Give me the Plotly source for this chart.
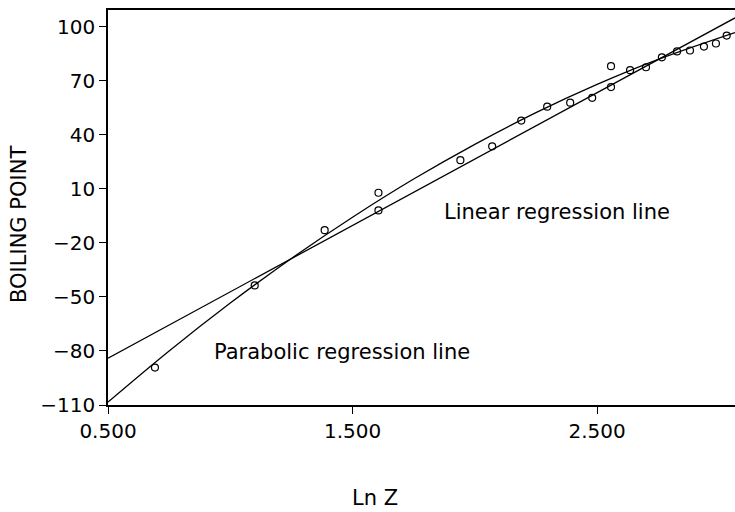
import plotly.graph_objects as go

# observed data (Ln Z, boiling point)
ln_z = [0.692, 1.10, 1.386, 1.606, 1.606, 1.941, 2.071, 2.19, 2.296, 2.39, 2.48,
        2.557, 2.557, 2.635, 2.70, 2.765, 2.827, 2.88, 2.937, 2.986, 3.03]
boiling = [-89.2, -43.6, -12.9, 7.9, -1.9, 26.0, 33.7, 48.0, 55.7, 57.9, 60.6,
           78.2, 66.6, 76.0, 77.6, 83.1, 86.4, 86.9, 89.1, 90.8, 95.2]

# regression lines
lin_x = [0.5, 3.064]
lin_y = [-84.0, 105.0]
par_x = [0.5, 0.75, 1.0, 1.25, 1.5, 1.75, 2.0, 2.25, 2.5, 2.75, 3.064]
par_y = [-108.4, -80.0, -53.4, -28.6, -5.7, 15.5, 34.8, 52.4, 68.1, 82.0, 96.9]

x_ticks = [0.5, 1.5, 2.5]
x_tick_labels = ["0.500", "1.500", "2.500"]
y_ticks = [-110, -80, -50, -20, 10, 40, 70, 100]
y_tick_labels = ["\u2212110", "\u221280", "\u221250", "\u221220", "10", "40", "70", "100"]

FONT = "DejaVu Sans"
XR = [0.5, 3.064]
YR = [-110, 109.4]

W, H = 735, 512
ML, MR, MT, MB = 108, 0, 10, 107
pw, ph = W - ML - MR, H - MT - MB

fig = go.Figure()
fig.add_trace(go.Scatter(x=lin_x, y=lin_y, mode="lines",
                         line=dict(color="black", width=1.3), showlegend=False))
fig.add_trace(go.Scatter(x=par_x, y=par_y, mode="lines", line_shape="spline",
                         line=dict(color="black", width=1.3), showlegend=False))
fig.add_trace(go.Scatter(x=ln_z, y=boiling, mode="markers",
                         marker=dict(symbol="circle-open", size=7, color="black",
                                     line=dict(width=1.2)),
                         showlegend=False))

tfont = dict(family=FONT, size=21, color="black")
fig.add_annotation(x=1.867, y=-3, text="Linear regression line", showarrow=False,
                   xanchor="left", yanchor="middle", font=tfont)
fig.add_annotation(x=0.924, y=-80.4, text="Parabolic regression line", showarrow=False,
                   xanchor="left", yanchor="middle", font=tfont)
fig.add_annotation(x=(375 - ML) / pw, y=-(511 - (H - MB)) / ph, xref="paper", yref="paper",
                   text="Ln Z", showarrow=False, xanchor="center", yanchor="bottom",
                   borderpad=0, font=tfont)
fig.add_annotation(x=(19 - ML) / pw, y=((H - MB) - 225) / ph, xref="paper", yref="paper",
                   text="BOILING POINT", showarrow=False, textangle=-90,
                   xanchor="center", yanchor="middle", font=tfont)

axis_font = dict(family=FONT, size=20, color="black")
fig.update_layout(
    width=W, height=H,
    margin=dict(l=ML, r=MR, t=MT, b=MB),
    paper_bgcolor="white", plot_bgcolor="white",
    xaxis=dict(range=XR, tickvals=x_ticks, ticktext=x_tick_labels, ticks="outside",
               ticklen=7, tickwidth=1.2, tickcolor="black", showline=True, linecolor="black",
               linewidth=1.5, mirror=True, showgrid=False, zeroline=False, tickfont=axis_font),
    yaxis=dict(range=YR, tickvals=y_ticks, ticktext=y_tick_labels, ticks="outside",
               ticklen=7, tickwidth=1.2, tickcolor="black", showline=True, linecolor="black",
               linewidth=1.5, showgrid=False, zeroline=False, tickfont=axis_font),
    xaxis2=dict(range=XR, overlaying="x", tickvals=x_ticks, ticks="inside", ticklen=6,
                tickwidth=1.2, tickcolor="black", showticklabels=False, showgrid=False,
                zeroline=False, showline=False),
    yaxis2=dict(range=YR, overlaying="y", tickvals=y_ticks, ticks="inside", ticklen=6,
                tickwidth=1.2, tickcolor="black", showticklabels=False, showgrid=False,
                zeroline=False, showline=False),
)
fig.write_html("out.html")
